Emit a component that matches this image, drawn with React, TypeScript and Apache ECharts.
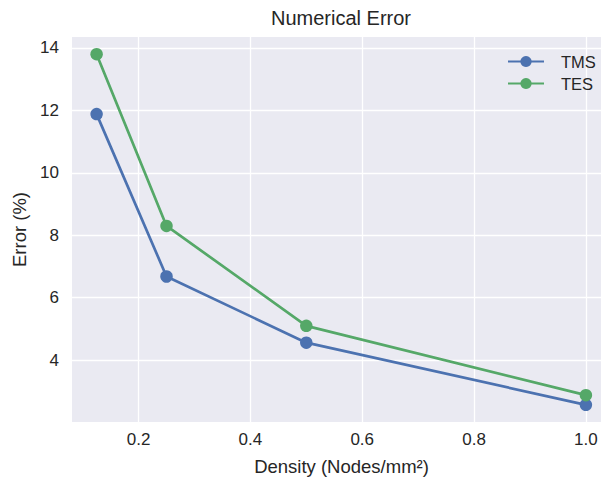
import React, { useEffect, useRef } from "react";
import * as echarts from "echarts";

// Node density (Nodes/mm²)
const densities = [0.125, 0.25, 0.5, 1.0];
// Numerical error (%) per method
const tmsError = [11.88, 6.68, 4.56, 2.57];
const tesError = [13.8, 8.3, 5.1, 2.88];

const xTicks = [0.2, 0.4, 0.6, 0.8, 1.0];
const yTicks = [4, 6, 8, 10, 12, 14];

const TEXT = "#262626";
const FONT = "'Liberation Sans', Arial, sans-serif";

export default function App() {
  const ref = useRef<HTMLDivElement>(null);

  useEffect(() => {
    if (!ref.current) return;
    const chart = echarts.init(ref.current, undefined, { renderer: "svg" });
    const toPairs = (ys: number[]) => densities.map((x, i) => [x, ys[i]]);

    chart.setOption({
      animation: false,
      backgroundColor: "#ffffff",
      textStyle: { fontFamily: FONT },
      graphic: [
        {
          type: "text",
          x: 341,
          y: 18,
          style: {
            text: "Numerical Error",
            fill: TEXT,
            font: `20px ${FONT}`,
            textAlign: "center",
            textVerticalAlign: "middle",
          },
        },
      ],
      grid: {
        left: 72,
        right: 0,
        top: 37,
        bottom: 58,
        show: true,
        backgroundColor: "#eaeaf2",
        borderWidth: 0,
      },
      legend: {
        orient: "vertical",
        left: 507,
        top: 53,
        padding: 0,
        itemWidth: 36,
        itemHeight: 14,
        itemGap: 5,
        textStyle: { color: TEXT, fontSize: 16.5, fontFamily: FONT, padding: [0, 0, 0, 12] },
        data: ["TMS", "TES"],
      },
      xAxis: {
        type: "value",
        min: 0.081,
        max: 1.027,
        name: "Density (Nodes/mm²)",
        nameLocation: "middle",
        nameGap: 35,
        nameTextStyle: { color: TEXT, fontSize: 18.5, fontFamily: FONT, padding: [0, 0, 0, 10] },
        axisLine: { show: false },
        axisTick: { show: false, customValues: xTicks },
        axisLabel: {
          customValues: xTicks,
          color: TEXT,
          fontSize: 17,
          fontFamily: FONT,
          margin: 9,
          formatter: (v: number) => v.toFixed(1),
        },
        splitLine: { show: true, lineStyle: { color: "#ffffff", width: 1.3 } },
      },
      yAxis: {
        type: "value",
        min: 2.02,
        max: 14.35,
        name: "Error (%)",
        nameLocation: "middle",
        nameGap: 43,
        nameTextStyle: { color: TEXT, fontSize: 18.5, fontFamily: FONT },
        axisLine: { show: false },
        axisTick: { show: false, customValues: yTicks },
        axisLabel: {
          customValues: yTicks,
          color: TEXT,
          fontSize: 17,
          fontFamily: FONT,
          margin: 13,
        },
        splitLine: { show: true, lineStyle: { color: "#ffffff", width: 1.3 } },
      },
      series: [
        {
          name: "TMS",
          type: "line",
          data: toPairs(tmsError),
          color: "#4c72b0",
          symbol: "circle",
          symbolSize: 12.5,
          lineStyle: { width: 2.7 },
        },
        {
          name: "TES",
          type: "line",
          data: toPairs(tesError),
          color: "#55a868",
          symbol: "circle",
          symbolSize: 12.5,
          lineStyle: { width: 2.7 },
        },
      ],
    });

    return () => chart.dispose();
  }, []);

  return (
    <div
      ref={ref}
      style={{ position: "fixed", left: 0, top: 0, width: 601, height: 481 }}
    />
  );
}
